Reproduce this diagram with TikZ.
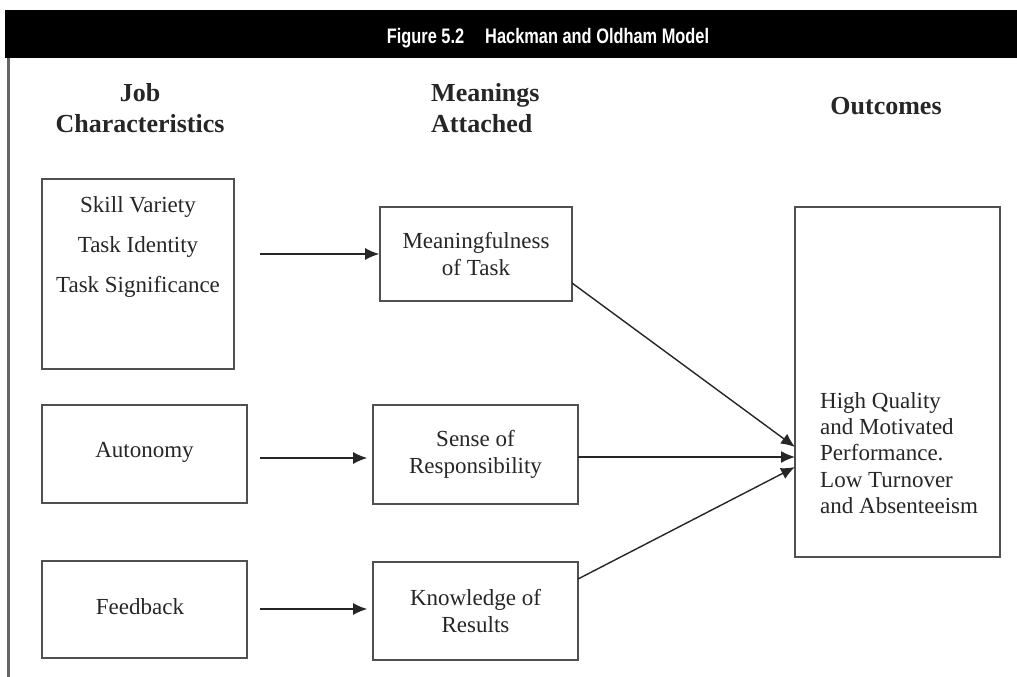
\documentclass[tikz,border=0pt]{standalone}
\usepackage{fontspec}
\setmainfont{Liberation Serif}
\newfontfamily\titlefont[FakeStretch=0.78]{Liberation Sans}
\usetikzlibrary{arrows.meta}
\definecolor{ink}{HTML}{262626}
\definecolor{frame}{HTML}{505050}
\tikzset{
  box/.style={draw=frame, line width=1.7pt, fill=white, inner sep=0pt},
  bodytext/.style={text=ink, font=\fontsize{23}{26.4}\selectfont, align=center, inner sep=0pt},
  heading/.style={text=ink, font=\fontsize{26}{30.5}\selectfont\bfseries, align=center, inner sep=0pt},
  arr/.style={draw=black!85, line width=1.4pt, -{Latex[length=14pt,width=12pt]}}
}
\begin{document}
\begin{tikzpicture}[x=1pt,y=-1pt]
\useasboundingbox (0,0) rectangle (1017,677);
\fill[white] (0,0) rectangle (1017,677);
% header bar
\fill[black] (5,10) rectangle (1017,58);
\node[text=white, font=\titlefont\fontsize{21}{24}\selectfont\bfseries, anchor=base, inner sep=0pt] (title) at (548,44) {Figure 5.2\quad Hackman and Oldham Model};
% left frame line
\draw[draw=black!60, line width=2.2pt] (8.5,58) -- (8.5,677);
% headings
\node[heading] (h1) at (140,108) {Job\\Characteristics};
\node[heading, align=left, anchor=west] (h2) at (431,108) {Meanings\\Attached};
\node[heading] (h3) at (886,106) {Outcomes};
% boxes
\node[box, minimum width=192pt, minimum height=190pt] (jc) at (138,274) {};
\node[bodytext, font=\fontsize{23}{39.5}\selectfont] (jctext) at (138,247) {Skill Variety\\Task Identity\\Task Significance};
\node[box, minimum width=192pt, minimum height=94pt] (mean) at (476,254) {};
\node[bodytext] (meantext) at (mean) {Meaningfulness\\of Task};
\node[box, minimum width=205pt, minimum height=98pt] (auto) at (144.5,454) {};
\node[bodytext] (autotext) at (144.5,452) {Autonomy};
\node[box, minimum width=205pt, minimum height=99pt] (sense) at (475.5,454.5) {};
\node[bodytext] (sensetext) at (sense) {Sense of\\Responsibility};
\node[box, minimum width=205pt, minimum height=97pt] (feed) at (144.5,609.5) {};
\node[bodytext] (feedtext) at (140,607) {Feedback};
\node[box, minimum width=205pt, minimum height=98pt] (know) at (475.5,611) {};
\node[bodytext] (knowtext) at (know) {Knowledge of\\Results};
\node[box, minimum width=205pt, minimum height=350pt] (out) at (897.5,382) {};
\node[bodytext, align=left, anchor=west] (outtext) at (820,453) {High Quality\\and Motivated\\Performance.\\Low Turnover\\and Absenteeism};
% connectors
\coordinate (s1) at (260,254);
\coordinate (s2) at (260,458);
\coordinate (s3) at (260,609);
\draw[arr] (s1) -- (mean.west |- s1);
\draw[arr, shorten >=5pt] (s2) -- (sense.west |- s2);
\draw[arr, shorten >=5pt] (s3) -- (know.west |- s3);
\coordinate (m1) at (572,283);
\coordinate (m2) at (578,457);
\coordinate (m3) at (578,579);
\coordinate (t1) at (795,447);
\coordinate (t2) at (795,457);
\coordinate (t3) at (795,467);
\draw[arr] (m1) -- (t1);
\draw[arr] (m2) -- (t2);
\draw[arr] (m3) -- (t3);
\end{tikzpicture}
\end{document}
